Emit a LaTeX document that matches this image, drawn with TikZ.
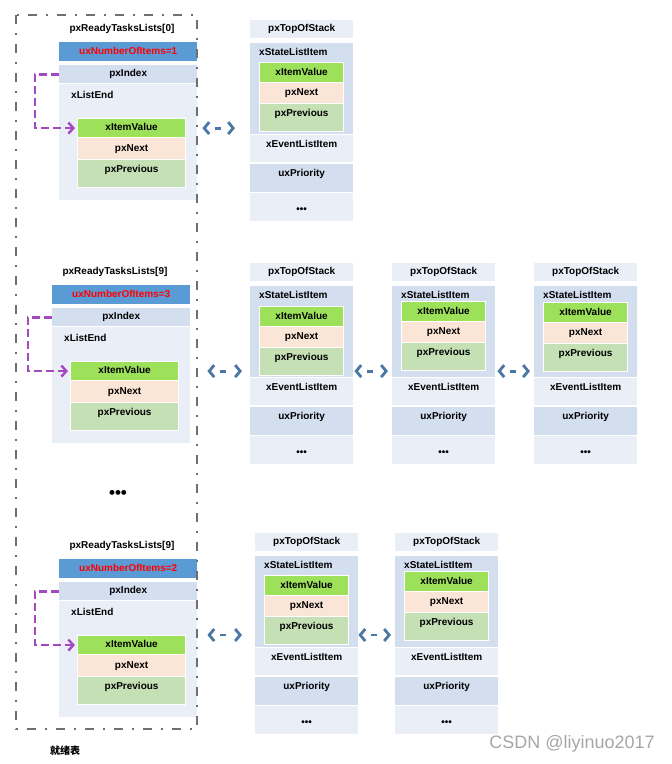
\documentclass[tikz,border=0pt]{standalone}
\usepackage{fontspec}
\setmainfont{Liberation Sans}
\newfontfamily\cjk{Noto Sans CJK SC}
\usetikzlibrary{arrows.meta}

\definecolor{cntblue}{HTML}{5B9BD5}
\definecolor{rowblue}{HTML}{D3DEEF}
\definecolor{rowpale}{HTML}{E9EEF7}
\definecolor{valgreen}{HTML}{9DE15B}
\definecolor{nextpeach}{HTML}{FBE5D6}
\definecolor{prevgreen}{HTML}{C5E0B4}
\definecolor{linkblue}{HTML}{4A77A3}
\definecolor{idxpurple}{HTML}{A348BE}
\definecolor{framegray}{HTML}{6F6F6F}

\tikzset{
  cell/.style={rectangle, inner sep=0pt, anchor=north west,
    text height=7.5pt, text depth=2pt,
    font=\bfseries\fontsize{10}{12}\selectfont},
  cellsize/.style 2 args={minimum width=#1pt, minimum height=#2pt},
  inlbl/.style={anchor=north west, inner sep=0pt, text height=7.5pt, text depth=2pt,
    font=\bfseries\fontsize{10}{12}\selectfont},
  listhead/.style={inner sep=0pt, font=\bfseries\fontsize{10}{12}\selectfont},
  itemrow/.style={cell, draw=white, line width=1.2pt},
  dblarrow/.style={draw=linkblue, line width=2.8pt,
    {Straight Barb[length=5pt,width=12pt,line width=2.8pt]}-{Straight Barb[length=5pt,width=12pt,line width=2.8pt]},
    dash pattern=on 0pt off 9.5pt on 6pt off 60pt},
  idxarrow/.style={draw=idxpurple, line width=2.6pt, dash pattern=on 8pt off 4pt,
    -{Straight Barb[length=5pt,width=11pt,line width=2.4pt]}, shorten >=2pt},
  readyframe/.style={draw=framegray, line width=2.4pt,
    dash pattern=on 9pt off 9pt on 2pt off 9pt}
}

% one ready list: name, x, y of the count bar, index, number of items
\newcommand\readylist[5]{%
  \node[listhead] (#1head) at (#2+63,#3-13) {pxReadyTasksLists[#4]};
  \node[cell, cellsize={138}{19}, fill=cntblue, text=red] (#1cnt) at (#2,#3) {uxNumberOfItems=#5};
  \node[cell, cellsize={138}{18}, fill=rowblue] (#1idx) at (#2,#3+23) {pxIndex};
  \node[cell, cellsize={138}{116}, fill=rowpale,
    label={[inlbl, xshift=12pt, yshift=-7pt]north west:xListEnd}] (#1end) at (#2,#3+42) {};
  \node[itemrow, cellsize={108}{19}, fill=valgreen] (#1val) at (#2+18,#3+76) {xItemValue};
  \node[itemrow, cellsize={108}{22}, fill=nextpeach] (#1next) at (#2+18,#3+95) {pxNext};
  \node[itemrow, cellsize={108}{28}, fill=prevgreen, text depth=10pt] (#1prev) at (#2+18,#3+117) {pxPrevious};
  \draw[idxarrow] (#1idx.west) -- ++(-24,0) |- (#1val.west);
}

% one task control block: name, x, y, offset of the list item
\newcommand\tcbblock[4]{%
  \node[cell, cellsize={103}{18}, fill=rowpale] (#1top) at (#2,#3) {pxTopOfStack};
  \node[cell, cellsize={103}{91}, fill=rowblue,
    label={[inlbl, xshift=9pt, yshift=-4.5pt]north west:xStateListItem}] (#1state) at (#2,#3+23) {};
  \node[itemrow, cellsize={84}{20}, fill=valgreen] (#1val) at (#2+9,#3+#4) {xItemValue};
  \node[itemrow, cellsize={84}{21}, fill=nextpeach] (#1next) at (#2+9,#3+#4+20) {pxNext};
  \node[itemrow, cellsize={84}{28}, fill=prevgreen, text depth=9.5pt] (#1prev) at (#2+9,#3+#4+41) {pxPrevious};
  \node[cell, cellsize={103}{27}, fill=rowpale, text depth=9pt] (#1event) at (#2,#3+115) {xEventListItem};
  \node[cell, cellsize={103}{28}, fill=rowblue, text depth=10pt] (#1prio) at (#2,#3+144) {uxPriority};
  \node[cell, cellsize={103}{28}, fill=rowpale, text height=11.4pt, text depth=0pt] (#1more) at (#2,#3+173)
    {\fontsize{10}{10}\selectfont •••};
}

\begin{document}
\begin{tikzpicture}[x=1pt, y=-1pt]
\useasboundingbox (0,0) rectangle (672,764);

% ready lists
\readylist{lstA}{59}{42}{0}{1}
\readylist{lstB}{52}{285}{9}{3}
\readylist{lstC}{59}{559}{9}{2}
\draw[readyframe] (16,15) rectangle (197,729);

\node[listhead, font=\bfseries\fontsize{17}{17}\selectfont] (gap) at (118,494) {•••};
\node[listhead, font=\cjk\bfseries\fontsize{10}{12}\selectfont] (readytitle) at (65,751) {就绪表};

% task blocks
\tcbblock{tA}{250}{20}{42}
\tcbblock{tB}{250}{263}{43}
\tcbblock{tC}{392}{263}{38}
\tcbblock{tD}{534}{263}{39}
\tcbblock{tE}{255}{533}{42}
\tcbblock{tF}{395}{533}{38}

% links
\draw[dblarrow, shorten <=5pt, shorten >=15pt] (lstAend.east |- lstAval) -- (tAstate.west |- lstAval);
\draw[dblarrow, shorten <=17pt, shorten >=8pt] (lstBend.east |- lstBval) -- (tBstate.west |- lstBval);
\draw[dblarrow, shorten <=1pt, shorten >=4pt] (tBstate.east |- lstBval) -- (tCstate.west |- lstBval);
\draw[dblarrow, shorten <=2pt, shorten >=4pt] (tCstate.east |- lstBval) -- (tDstate.west |- lstBval);
\draw[dblarrow, shorten <=10pt, shorten >=13pt] (lstCend.east |- lstCval.north) -- (tEstate.west |- lstCval.north);
\draw[dblarrow, shorten <=0pt, shorten >=4pt] (tEstate.east |- lstCval.north) -- (tFstate.west |- lstCval.north);

\node[text=gray!70, font=\fontsize{18}{18}\selectfont, inner sep=0pt] (mark) at (572,744) {CSDN @liyinuo2017};
\end{tikzpicture}
\end{document}
